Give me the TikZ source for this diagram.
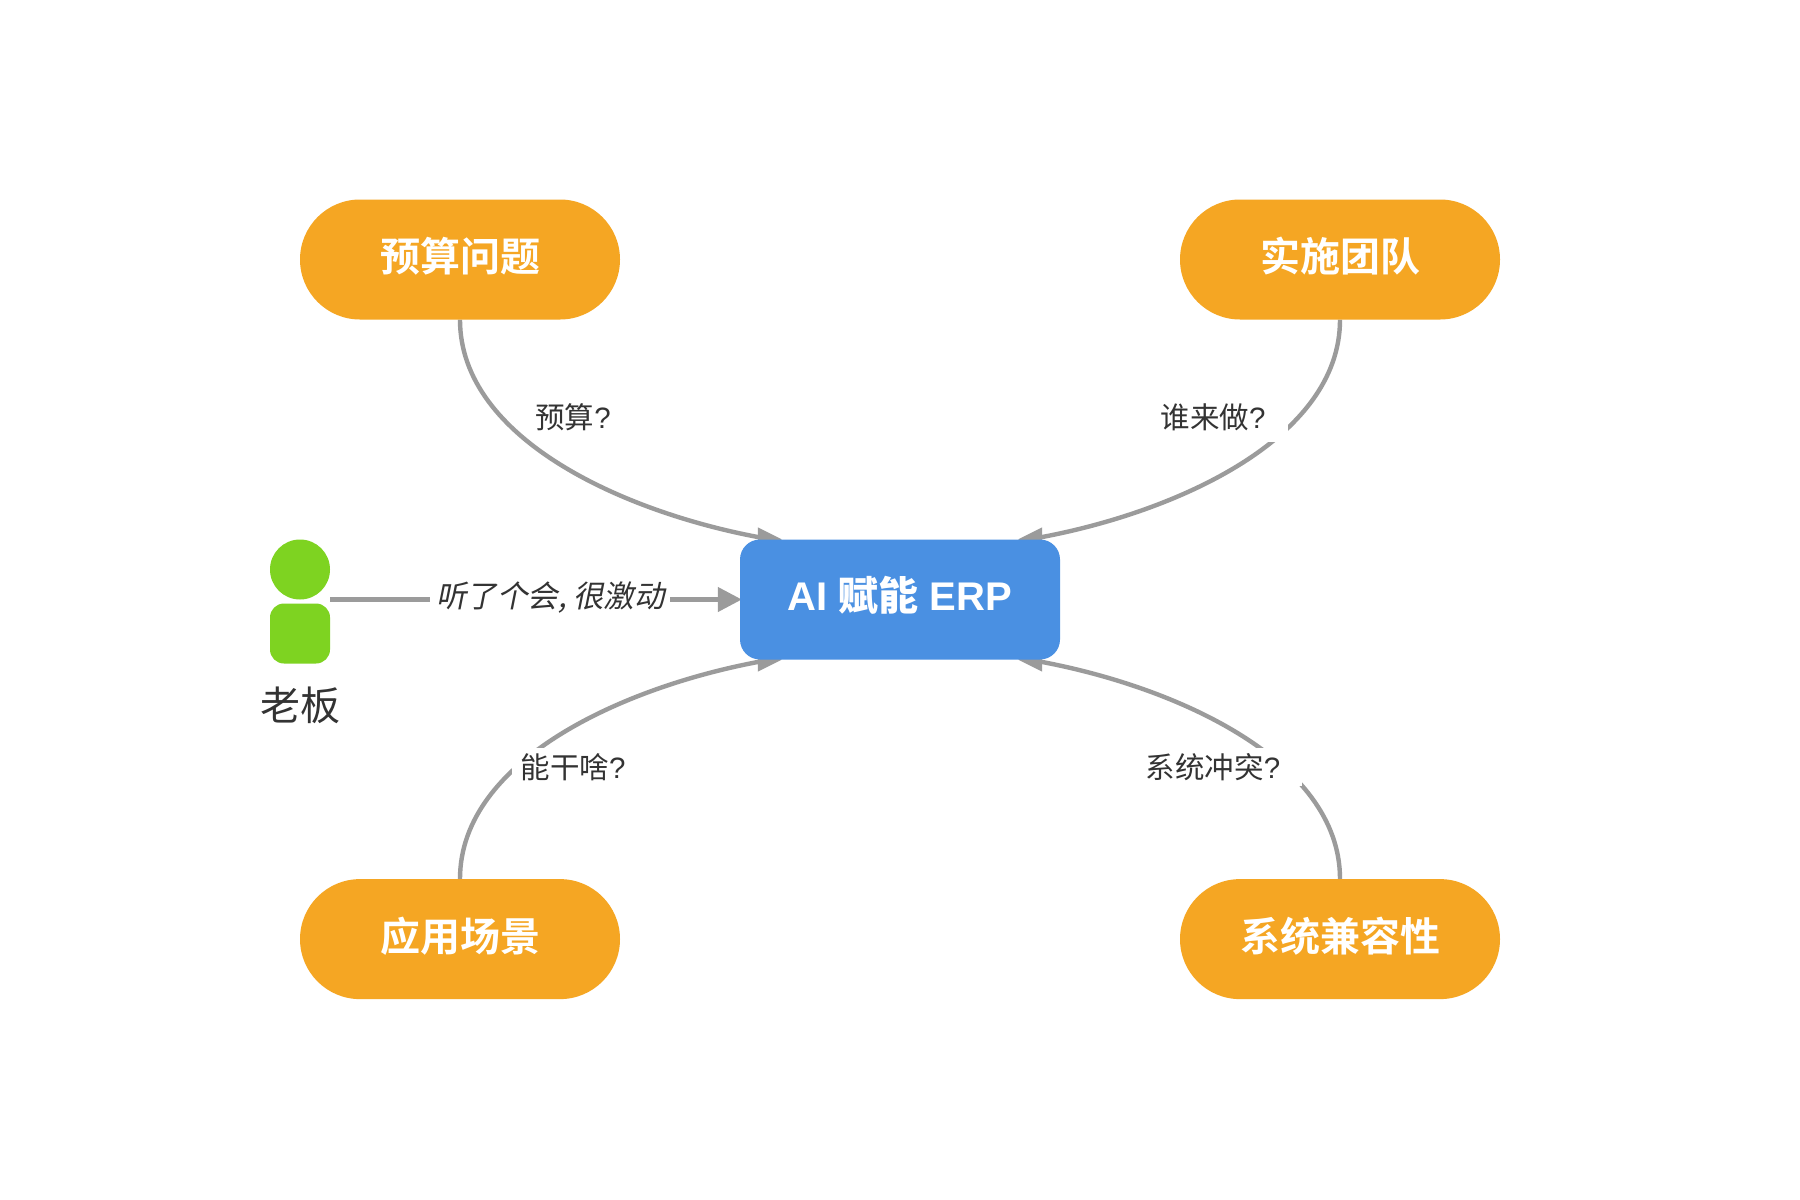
\documentclass[tikz,border=0pt]{standalone}
\usepackage{fontspec}
\setmainfont{Liberation Sans}
\newfontfamily\cjk{Noto Sans CJK SC}
\newfontfamily\cjkb{Noto Sans CJK SC Bold}
\newfontfamily\cjki[FakeSlant=0.2]{Noto Sans CJK SC}
\usetikzlibrary{arrows.meta,calc,backgrounds}
\definecolor{orange1}{HTML}{F5A623}
\definecolor{blue1}{HTML}{4A90E2}
\definecolor{green1}{HTML}{7ED321}
\definecolor{gray1}{HTML}{9B9B9B}
\definecolor{ink}{HTML}{333333}
\tikzset{
  pill/.style={fill=orange1,rounded corners=60pt,minimum width=320pt,minimum height=120pt,inner sep=0pt,text=white,font=\fontsize{40}{48}\selectfont\cjkb},
  core/.style={fill=blue1,rounded corners=20pt,minimum width=320pt,minimum height=120pt,inner sep=0pt,text=white,font=\fontsize{40}{48}\selectfont\bfseries},
  edgetext/.style={inner sep=0pt,text=ink,font=\fontsize{29.5}{36}\selectfont},
  mask/.style={fill=white,inner sep=0pt},
  link/.style={draw=gray1,line width=4.4pt},
  straightlink/.style={draw=gray1,line width=4.4pt,-{Triangle[length=24pt,width=24pt]}},
  head/.style={draw=none,fill=gray1},
}
\begin{document}
\begin{tikzpicture}[x=1pt,y=-1pt]
\useasboundingbox (0,0.5) rectangle (1800,1200.5);
\node[pill] (a) at (460,260) {\raisebox{10.5pt}{预算问题}};
\node[pill] (b) at (1340,260) {\raisebox{10.5pt}{实施团队}};
\node[pill] (c) at (460,939.6) {\raisebox{10.5pt}{应用场景}};
\node[pill] (d) at (1340,939.6) {\raisebox{10.5pt}{系统兼容性}};
\node[core] (e) at (900,600) {\raisebox{12.5pt}{AI {\cjkb 赋能} ERP}};
\fill[green1] (300,570) circle (30pt);
\node[fill=green1,rounded corners=14pt,minimum width=60pt,minimum height=60pt,inner sep=0pt] (boss) at (300,634) {};
\node[text=ink,inner sep=0pt,font=\fontsize{40}{48}\selectfont\cjk] (bosslabel) at (300,706) {老板};
\begin{scope}[on background layer]
\fill[white] (0,0.5) rectangle (1800,1200.5);
\coordinate (bossr) at (330,600);
\draw[link] (a.south) .. controls (460,440) and (626,514) .. ($(e.north west)+(25,-1)$);
\fill[head] ($(e.north west)+(42,0)$) -- ($(e.north west)+(18,-12)$) -- ($(e.north west)+(18,12)$) -- cycle;
\draw[link] (b.south) .. controls (1340,440) and (1174,514) .. ($(e.north east)+(-25,-1)$);
\fill[head] ($(e.north east)+(-42,0)$) -- ($(e.north east)+(-18,-12)$) -- ($(e.north east)+(-18,12)$) -- cycle;
\draw[link] (c.north) .. controls (460,760) and (626,686) .. ($(e.south west)+(25,1)$);
\fill[head] ($(e.south west)+(42,0)$) -- ($(e.south west)+(18,12)$) -- ($(e.south west)+(18,-12)$) -- cycle;
\draw[link] (d.north) .. controls (1340,760) and (1174,686) .. ($(e.south east)+(-25,1)$);
\fill[head] ($(e.south east)+(-42,0)$) -- ($(e.south east)+(-18,12)$) -- ($(e.south east)+(-18,-12)$) -- cycle;
\draw[straightlink] (bossr) -- ($(e.west)+(2,0)$);
\end{scope}
\node[mask,minimum width=240pt,minimum height=38pt] (m0) at (550,600) {};
\node[edgetext,font=\fontsize{30.5}{36}\selectfont\cjki] (l0) at (550.5,598) {听了个会, 很激动};
\node[edgetext] (l1) at (573,418) {{\cjk 预算}?};
\node[mask,minimum width=150pt,minimum height=38pt] (m2) at (1213,423) {};
\node[edgetext] (l2) at (1213,418) {{\cjk 谁来做}?};
\node[mask,minimum width=122pt,minimum height=38pt] (m3) at (573,767) {};
\node[edgetext] (l3) at (573,768) {{\cjk 能干啥}?};
\node[mask,minimum width=178pt,minimum height=38pt] (m4) at (1213,767) {};
\node[edgetext] (l4) at (1213,768) {{\cjk 系统冲突}?};
\end{tikzpicture}
\end{document}
